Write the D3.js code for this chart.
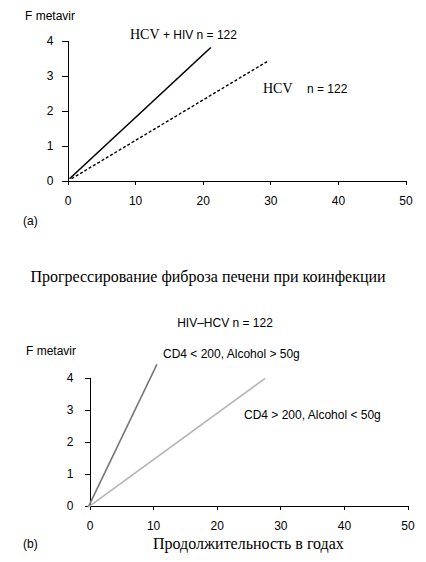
<!DOCTYPE html>
<html>
<head>
<meta charset="utf-8">
<style>
  body { margin: 0; background: #fff; }
  svg { display: block; }
  .sans { font-family: "Liberation Sans", Arial, sans-serif; font-size: 12px; fill: #000; }
  .serif { font-family: "Liberation Serif", "Times New Roman", serif; fill: #000; }
  .axis text { font-family: "Liberation Sans", Arial, sans-serif; font-size: 12px; fill: #000; }
  .axis path, .axis line { stroke: #000; stroke-width: 1px; shape-rendering: crispEdges; }
</style>
</head>
<body>
<svg id="chart"></svg>
<script src="https://cdn.jsdelivr.net/npm/d3@7"></script>
<script>
// data: straight lines [years, F metavir]
const xTicks = [0, 10, 20, 30, 40, 50];
const yTicks = [0, 1, 2, 3, 4];
const hcvHiv = [[0.3, 0.05], [21.2, 3.8]];
const hcvOnly = [[0.6, 0.05], [29.8, 3.43]];
const lowCd4Alcohol = [[-0.2, -0.05], [10.6, 4.41]];
const highCd4NoAlcohol = [[-0.2, -0.05], [27.6, 3.97]];

const svg = d3.select('#chart').attr('width', 426).attr('height', 562);
const fmt = d3.format('d');

// ---- panel (a)
const xa = d3.scaleLinear().domain([0, 50]).range([67.5, 405.5]);
const ya = d3.scaleLinear().domain([0, 4]).range([180.5, 40.5]);

svg.append('g').attr('class', 'axis')
    .attr('transform', 'translate(0,180.5)')
    .call(d3.axisBottom(xa).tickValues(xTicks).tickFormat(fmt).tickSize(4).tickSizeOuter(0).tickPadding(12));
svg.append('g').attr('class', 'axis')
    .attr('transform', 'translate(67.5,0)')
    .call(d3.axisLeft(ya).tickValues(yTicks).tickFormat(fmt).tickSize(6).tickSizeOuter(0).tickPadding(8));

const linea = d3.line().x(d => xa(d[0])).y(d => ya(d[1]));
svg.append('path').datum(hcvHiv).attr('d', linea)
    .attr('fill', 'none').attr('stroke', '#000').attr('stroke-width', 1.6);
svg.append('path').datum(hcvOnly).attr('d', linea)
    .attr('fill', 'none').attr('stroke', '#000').attr('stroke-width', 1.4)
    .attr('stroke-dasharray', '3,2');

svg.append('text').attr('class', 'sans').attr('x', 25).attr('y', 20).text('F metavir');
svg.append('text').attr('class', 'sans').attr('x', 23).attr('y', 225).text('(a)');

const t1 = svg.append('text').attr('x', 130).attr('y', 39);
t1.append('tspan').attr('class', 'serif').style('font-size', '14px').text('HCV');
t1.append('tspan').attr('class', 'sans').text(' + HIV n = 122');

const t2 = svg.append('text').attr('x', 263).attr('y', 93);
t2.append('tspan').attr('class', 'serif').style('font-size', '14px').text('HCV');
t2.append('tspan').attr('class', 'sans').attr('x', 307).text('n = 122');

// ---- title between the panels
svg.append('text').attr('class', 'serif').style('font-size', '16px')
    .attr('x', 208).attr('y', 282).attr('text-anchor', 'middle')
    .text('Прогрессирование фиброза печени при коинфекции');
svg.append('text').attr('class', 'sans').attr('x', 225).attr('y', 327)
    .attr('text-anchor', 'middle').text('HIV–HCV n = 122');

// ---- panel (b)
const xb = d3.scaleLinear().domain([0, 50]).range([89.5, 407.5]);
const yb = d3.scaleLinear().domain([0, 4]).range([505.5, 377.5]);

svg.append('g').attr('class', 'axis')
    .attr('transform', 'translate(0,505.5)')
    .call(d3.axisBottom(xb).tickValues(xTicks).tickFormat(fmt).tickSize(4).tickSizeOuter(0).tickPadding(12));
svg.append('g').attr('class', 'axis')
    .attr('transform', 'translate(89.5,0)')
    .call(d3.axisLeft(yb).tickValues(yTicks).tickFormat(fmt).tickSize(5).tickSizeOuter(0).tickPadding(11));

const lineb = d3.line().x(d => xb(d[0])).y(d => yb(d[1]));
svg.append('path').datum(lowCd4Alcohol).attr('d', lineb)
    .attr('fill', 'none').attr('stroke', '#777').attr('stroke-width', 1.6);
svg.append('path').datum(highCd4NoAlcohol).attr('d', lineb)
    .attr('fill', 'none').attr('stroke', '#b4b4b4').attr('stroke-width', 1.6);

svg.append('text').attr('class', 'sans').attr('x', 26).attr('y', 355).text('F metavir');
svg.append('text').attr('class', 'sans').attr('x', 163).attr('y', 358).text('CD4 < 200, Alcohol > 50g');
svg.append('text').attr('class', 'sans').attr('x', 244).attr('y', 419).text('CD4 > 200, Alcohol < 50g');
svg.append('text').attr('class', 'sans').attr('x', 23).attr('y', 548).text('(b)');
svg.append('text').attr('class', 'serif').style('font-size', '16px')
    .attr('x', 153).attr('y', 549).text('Продолжительность в годах');
</script>
</body>
</html>
